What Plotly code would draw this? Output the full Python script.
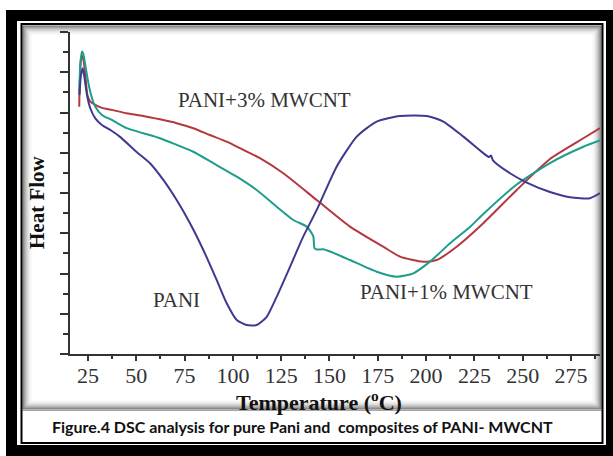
import plotly.graph_objects as go

# ---- data (temperature in °C, heat flow in arbitrary units) ----
temp_pani = [20.6, 21.4, 22.3, 23.2, 24.5, 26.2, 28.8, 32.2, 37.4, 41.6, 50.2, 57.1, 64.0, 70.9,
             77.8, 84.7, 91.6, 96.8, 102.0, 107.1, 112.3, 117.5, 122.7, 129.6, 136.4, 143.4,
             153.7, 164.1, 174.4, 186.5, 200.3, 208.9, 219.3, 229.6, 232.6, 233.6, 234.6,
             243.4, 252.1, 264.1, 274.5, 284.8, 290.0]
hf_pani = [12.87, 13.87, 14.20, 13.72, 12.87, 12.21, 11.71, 11.38, 11.08, 10.79, 10.04, 9.48, 8.65,
           7.65, 6.50, 5.17, 3.68, 2.52, 1.69, 1.44, 1.44, 1.85, 2.85, 4.34, 5.83, 7.16, 9.31,
           10.80, 11.55, 11.83, 11.83, 11.55, 10.80, 9.98, 9.79, 9.87, 9.62, 8.98, 8.52, 8.05,
           7.79, 7.74, 7.99]

temp_1pct = [20.5, 21.1, 21.9, 22.7, 23.6, 25.4, 27.1, 28.8, 32.2, 37.4, 45.0, 53.6, 62.3, 70.9,
             79.5, 89.9, 102.0, 112.3, 122.7, 131.3, 138.2, 140.8, 141.7, 142.2, 143.5, 146.8,
             153.4, 160.6, 174.4, 184.8, 193.4, 202.0, 212.4, 222.7, 229.6, 246.9, 264.1,
             281.4, 290.0]
hf_1pct = [12.97, 14.51, 15.03, 14.86, 14.36, 13.37, 12.71, 12.29, 11.88, 11.63, 11.22, 10.97,
           10.72, 10.39, 10.05, 9.48, 8.81, 8.15, 7.32, 6.66, 6.33, 6.00, 5.82, 5.27, 5.19, 5.20,
           4.97, 4.67, 4.09, 3.84, 4.01, 4.59, 5.50, 6.31, 6.96, 8.42, 9.49, 10.30, 10.61]

temp_3pct = [20.5, 20.6, 21.3, 21.9, 22.7, 23.6, 24.7, 26.0, 28.8, 32.2, 37.4, 45.0, 53.6, 62.3,
             70.9, 79.5, 88.1, 96.8, 105.4, 114.0, 126.1, 143.4, 160.6, 177.8, 186.5, 198.6,
             205.5, 215.8, 229.6, 246.9, 264.1, 281.4, 290.0]
hf_3pct = [12.29, 12.97, 14.51, 14.81, 14.61, 13.87, 12.87, 12.57, 12.38, 12.23, 12.13, 11.96,
           11.83, 11.66, 11.47, 11.22, 10.88, 10.55, 10.14, 9.73, 8.98, 7.65, 6.33, 5.33, 4.84,
           4.59, 4.67, 5.33, 6.50, 8.15, 9.69, 10.72, 11.22]

x_ticks = [25, 50, 75, 100, 125, 150, 175, 200, 225, 250, 275]

W, H = 613, 456
L, R, T, B = 70, 600, 32, 354


def px(x):
    return (x - L) / (R - L)


def py(y):
    return (B - y) / (B - T)


fig = go.Figure()
fig.add_trace(go.Scatter(x=temp_3pct, y=hf_3pct, mode="lines", name="PANI+3% MWCNT",
                         line=dict(color="#B3383F", width=2, shape="spline", smoothing=0.6)))
fig.add_trace(go.Scatter(x=temp_1pct, y=hf_1pct, mode="lines", name="PANI+1% MWCNT",
                         line=dict(color="#1E9C8C", width=2, shape="spline", smoothing=0.6)))
fig.add_trace(go.Scatter(x=temp_pani, y=hf_pani, mode="lines", name="PANI",
                         line=dict(color="#3D3A90", width=2, shape="spline", smoothing=0.6)))

shapes = []


def rect(x0, y0, x1, y1, fill=None, line_color=None, lw=0, layer="below"):
    d = dict(type="rect", xref="paper", yref="paper",
             x0=px(x0), x1=px(x1), y0=py(y1), y1=py(y0), layer=layer)
    if fill:
        d["fillcolor"] = fill
    d["line"] = dict(color=line_color or "rgba(0,0,0,0)", width=lw)
    shapes.append(d)


# outer thick black frame
rect(6, 10, 620, 21, fill="black")
rect(6, 445, 620, 456, fill="black")
rect(6, 10, 17, 456, fill="black")
rect(606, 10, 620, 456, fill="black")
# thin inner frame
rect(21.5, 24, 602.5, 443, line_color="black", lw=2)
# panel inner shadow (gradient approximation)
alphas = [0.6, 0.46, 0.35, 0.26, 0.19, 0.13, 0.08, 0.05, 0.03]
for i, a in enumerate(alphas):
    o = i + 1
    rect(22 + o, 25 + o, 602 - o, 410 - o, line_color=f"rgba(0,0,0,{a})", lw=1)
# caption box separator
rect(22, 410, 602, 411, fill="rgba(0,0,0,0.35)")


def label(text, x, y, size, family="Liberation Serif", color="#333", xanchor="center",
          angle=0):
    return dict(text=text, x=px(x), y=py(y), xref="paper", yref="paper", showarrow=False,
                xanchor=xanchor, yanchor="middle", textangle=angle,
                font=dict(family=family, size=size, color=color))


annotations = [
    label("PANI+3% MWCNT", 264, 100, 21),
    label("PANI+1% MWCNT", 446, 292, 21),
    label("PANI", 176, 300, 21),
    label("<b>Temperature (<sup>o</sup>C)</b>", 319, 401, 22, color="#111"),
    label("<b>Heat Flow</b>", 37, 202, 21, color="#111", angle=-90),
    label("<b>Figure.4 DSC analysis for pure Pani and  composites of PANI- MWCNT</b>",
          50, 426, 16, family="Lato", color="#111", xanchor="left"),
]

fig.update_layout(
    width=W, height=H,
    margin=dict(l=L, r=W - R, t=T, b=H - B, pad=0),
    paper_bgcolor="white", plot_bgcolor="rgba(0,0,0,0)",
    showlegend=False,
    shapes=shapes, annotations=annotations,
    xaxis=dict(range=[15.7, 290], tickvals=x_ticks, ticks="outside", ticklen=5,
               tickwidth=1.5, tickcolor="#333", showline=True, linecolor="#333",
               linewidth=1.5, showgrid=False, zeroline=False, ticklabelstandoff=-4,
               tickfont=dict(family="Liberation Serif", size=22, color="#333"),
               minor=dict(ticks="outside", ticklen=3, tickwidth=1.5, tickcolor="#333",
                          dtick=12.5, tick0=0, showgrid=False)),
    yaxis=dict(range=[0, 16], dtick=2, tick0=0, ticks="outside", ticklen=8, tickwidth=1.5,
               tickcolor="#333", showline=True, linecolor="#333", linewidth=1.5,
               showgrid=False, zeroline=False, showticklabels=False,
               minor=dict(ticks="outside", ticklen=5, tickwidth=1.5, tickcolor="#333",
                          dtick=1, tick0=0, showgrid=False)),
)

fig.write_html("out.html")
